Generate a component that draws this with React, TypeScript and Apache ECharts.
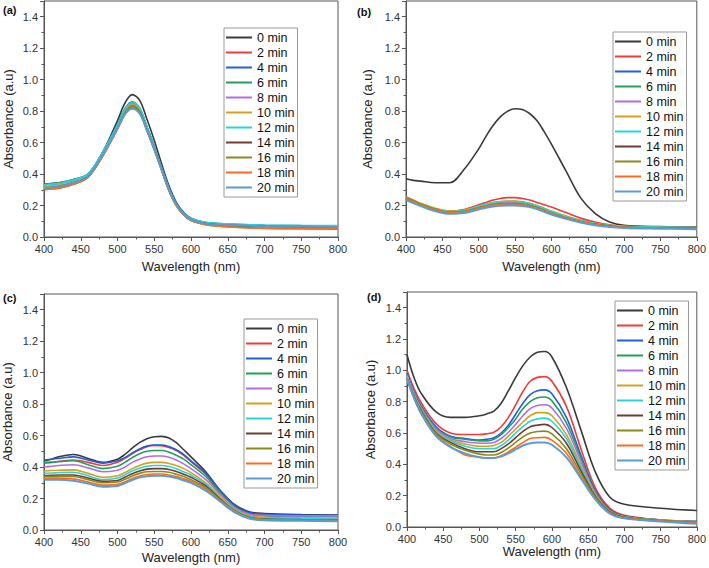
import React, { useEffect, useRef } from "react";
import * as echarts from "echarts";

// Wavelength sampling (nm)
const WL = [400, 410, 420, 440, 460, 480, 500, 510, 520, 530, 540, 550, 560, 570, 580, 590, 600, 620, 640, 660, 680, 700, 750, 800];

const TIMES = ["0 min", "2 min", "4 min", "6 min", "8 min", "10 min", "12 min", "14 min", "16 min", "18 min", "20 min"];
const COLORS = ["#3a3a3a", "#f23a3a", "#1f5fe0", "#22a05a", "#b46be6", "#d4a020", "#27d5d5", "#6e3c36", "#8a8a1a", "#ff6a1a", "#5b9bd5"];

// Panel (a)
const a0 = [0.335, 0.335, 0.34, 0.36, 0.40, 0.54, 0.74, 0.85, 0.905, 0.87, 0.75, 0.615, 0.465, 0.325, 0.22, 0.155, 0.12, 0.09, 0.082, 0.077, 0.073, 0.071, 0.068, 0.066];
const a2 = [0.31, 0.315, 0.32, 0.345, 0.385, 0.52, 0.69, 0.785, 0.83, 0.795, 0.68, 0.56, 0.43, 0.30, 0.205, 0.145, 0.11, 0.085, 0.078, 0.073, 0.07, 0.068, 0.065, 0.063];
const a4 = [0.335, 0.34, 0.345, 0.365, 0.40, 0.54, 0.715, 0.815, 0.86, 0.82, 0.70, 0.575, 0.44, 0.31, 0.21, 0.15, 0.115, 0.09, 0.082, 0.078, 0.075, 0.072, 0.07, 0.068];
const a6 = [0.335, 0.34, 0.345, 0.365, 0.40, 0.54, 0.71, 0.805, 0.85, 0.815, 0.70, 0.575, 0.44, 0.31, 0.21, 0.15, 0.118, 0.092, 0.085, 0.08, 0.077, 0.075, 0.072, 0.07];
const a8 = [0.33, 0.335, 0.34, 0.36, 0.395, 0.535, 0.705, 0.80, 0.845, 0.81, 0.695, 0.57, 0.435, 0.305, 0.205, 0.148, 0.115, 0.09, 0.082, 0.077, 0.074, 0.072, 0.07, 0.068];
const a10 = [0.32, 0.325, 0.33, 0.35, 0.39, 0.53, 0.70, 0.795, 0.84, 0.805, 0.69, 0.565, 0.43, 0.30, 0.20, 0.142, 0.11, 0.083, 0.075, 0.07, 0.066, 0.064, 0.06, 0.058];
const a12 = [0.33, 0.335, 0.34, 0.362, 0.40, 0.54, 0.712, 0.81, 0.855, 0.82, 0.70, 0.575, 0.44, 0.31, 0.21, 0.15, 0.118, 0.093, 0.086, 0.082, 0.078, 0.076, 0.073, 0.072];
const a14 = [0.31, 0.315, 0.32, 0.345, 0.385, 0.52, 0.69, 0.785, 0.83, 0.795, 0.682, 0.56, 0.43, 0.30, 0.205, 0.145, 0.11, 0.085, 0.077, 0.072, 0.07, 0.068, 0.066, 0.064];
const a16 = [0.30, 0.305, 0.31, 0.335, 0.38, 0.515, 0.69, 0.785, 0.83, 0.795, 0.68, 0.555, 0.425, 0.295, 0.20, 0.14, 0.105, 0.078, 0.068, 0.062, 0.058, 0.055, 0.052, 0.05];
const a18 = [0.30, 0.305, 0.31, 0.335, 0.378, 0.515, 0.685, 0.778, 0.82, 0.787, 0.675, 0.553, 0.425, 0.295, 0.20, 0.14, 0.105, 0.078, 0.068, 0.062, 0.058, 0.056, 0.053, 0.051];
const a20 = [0.31, 0.315, 0.32, 0.345, 0.385, 0.525, 0.69, 0.78, 0.815, 0.785, 0.68, 0.56, 0.43, 0.30, 0.205, 0.145, 0.11, 0.085, 0.078, 0.074, 0.071, 0.069, 0.066, 0.064];

// Panel (b)
const b0 = [0.37, 0.36, 0.355, 0.345, 0.345, 0.43, 0.56, 0.64, 0.71, 0.765, 0.80, 0.815, 0.81, 0.785, 0.74, 0.67, 0.59, 0.42, 0.25, 0.15, 0.095, 0.075, 0.066, 0.063];
const b2 = [0.25, 0.23, 0.21, 0.18, 0.165, 0.175, 0.205, 0.22, 0.235, 0.245, 0.25, 0.25, 0.245, 0.235, 0.22, 0.205, 0.19, 0.155, 0.12, 0.095, 0.077, 0.068, 0.063, 0.06];
const b4 = [0.245, 0.225, 0.205, 0.175, 0.158, 0.165, 0.19, 0.202, 0.212, 0.218, 0.22, 0.22, 0.215, 0.205, 0.19, 0.173, 0.155, 0.125, 0.10, 0.082, 0.07, 0.065, 0.06, 0.058];
const b6 = [0.25, 0.23, 0.21, 0.178, 0.16, 0.168, 0.195, 0.208, 0.218, 0.224, 0.226, 0.226, 0.222, 0.212, 0.197, 0.18, 0.162, 0.13, 0.105, 0.085, 0.072, 0.066, 0.061, 0.059];
const b8 = [0.245, 0.225, 0.205, 0.175, 0.157, 0.163, 0.188, 0.20, 0.21, 0.216, 0.218, 0.218, 0.213, 0.204, 0.19, 0.173, 0.155, 0.125, 0.10, 0.082, 0.07, 0.064, 0.06, 0.057];
const b10 = [0.255, 0.235, 0.215, 0.183, 0.165, 0.172, 0.198, 0.21, 0.22, 0.226, 0.228, 0.228, 0.224, 0.215, 0.20, 0.183, 0.165, 0.133, 0.107, 0.087, 0.074, 0.068, 0.063, 0.06];
const b12 = [0.25, 0.23, 0.21, 0.178, 0.16, 0.168, 0.195, 0.208, 0.218, 0.224, 0.226, 0.226, 0.222, 0.213, 0.198, 0.18, 0.162, 0.13, 0.105, 0.085, 0.072, 0.066, 0.062, 0.06];
const b14 = [0.24, 0.22, 0.20, 0.17, 0.153, 0.16, 0.183, 0.194, 0.203, 0.208, 0.21, 0.21, 0.206, 0.198, 0.185, 0.168, 0.15, 0.12, 0.097, 0.08, 0.068, 0.062, 0.058, 0.055];
const b16 = [0.255, 0.232, 0.21, 0.178, 0.158, 0.163, 0.185, 0.196, 0.205, 0.21, 0.212, 0.212, 0.208, 0.20, 0.187, 0.17, 0.152, 0.122, 0.098, 0.08, 0.068, 0.062, 0.058, 0.055];
const b18 = [0.245, 0.225, 0.205, 0.173, 0.155, 0.16, 0.182, 0.193, 0.201, 0.206, 0.208, 0.208, 0.204, 0.196, 0.183, 0.166, 0.149, 0.12, 0.096, 0.079, 0.067, 0.061, 0.057, 0.054];
const b20 = [0.235, 0.215, 0.197, 0.165, 0.148, 0.153, 0.175, 0.186, 0.194, 0.199, 0.20, 0.20, 0.197, 0.19, 0.177, 0.16, 0.143, 0.115, 0.092, 0.075, 0.063, 0.057, 0.053, 0.05];

// Panel (c)
const c0 = [0.44, 0.45, 0.465, 0.48, 0.455, 0.43, 0.45, 0.48, 0.52, 0.555, 0.58, 0.593, 0.595, 0.585, 0.555, 0.51, 0.465, 0.37, 0.25, 0.16, 0.115, 0.105, 0.098, 0.095];
const c2 = [0.425, 0.43, 0.435, 0.445, 0.43, 0.41, 0.43, 0.455, 0.485, 0.51, 0.53, 0.537, 0.535, 0.525, 0.505, 0.475, 0.435, 0.355, 0.245, 0.15, 0.105, 0.095, 0.09, 0.088];
const c4 = [0.445, 0.45, 0.455, 0.465, 0.445, 0.425, 0.44, 0.46, 0.49, 0.515, 0.533, 0.54, 0.54, 0.53, 0.51, 0.48, 0.44, 0.36, 0.25, 0.155, 0.11, 0.10, 0.095, 0.093];
const c6 = [0.43, 0.43, 0.435, 0.44, 0.415, 0.39, 0.405, 0.43, 0.46, 0.485, 0.50, 0.505, 0.505, 0.495, 0.475, 0.45, 0.415, 0.34, 0.235, 0.145, 0.10, 0.09, 0.085, 0.085];
const c8 = [0.40, 0.405, 0.41, 0.415, 0.395, 0.37, 0.38, 0.40, 0.43, 0.45, 0.465, 0.47, 0.47, 0.462, 0.445, 0.42, 0.39, 0.32, 0.225, 0.14, 0.10, 0.093, 0.09, 0.09];
const c10 = [0.375, 0.378, 0.38, 0.382, 0.36, 0.335, 0.345, 0.365, 0.39, 0.41, 0.425, 0.43, 0.43, 0.423, 0.41, 0.39, 0.365, 0.30, 0.21, 0.13, 0.09, 0.08, 0.075, 0.073];
const c12 = [0.36, 0.362, 0.365, 0.367, 0.345, 0.32, 0.33, 0.35, 0.375, 0.393, 0.405, 0.41, 0.41, 0.404, 0.39, 0.37, 0.35, 0.29, 0.20, 0.125, 0.085, 0.075, 0.072, 0.07];
const c14 = [0.345, 0.347, 0.35, 0.35, 0.33, 0.31, 0.315, 0.335, 0.358, 0.375, 0.387, 0.39, 0.39, 0.385, 0.372, 0.355, 0.335, 0.28, 0.195, 0.12, 0.08, 0.07, 0.066, 0.065];
const c16 = [0.34, 0.34, 0.342, 0.34, 0.32, 0.30, 0.305, 0.322, 0.343, 0.36, 0.37, 0.372, 0.372, 0.367, 0.355, 0.34, 0.32, 0.27, 0.19, 0.12, 0.08, 0.068, 0.064, 0.063];
const c18 = [0.33, 0.33, 0.33, 0.325, 0.305, 0.285, 0.29, 0.306, 0.328, 0.343, 0.353, 0.356, 0.356, 0.35, 0.34, 0.325, 0.31, 0.26, 0.185, 0.115, 0.075, 0.065, 0.062, 0.06];
const c20 = [0.32, 0.32, 0.32, 0.313, 0.295, 0.275, 0.28, 0.297, 0.318, 0.333, 0.342, 0.345, 0.345, 0.34, 0.33, 0.315, 0.30, 0.25, 0.18, 0.11, 0.072, 0.062, 0.058, 0.056];

// Panel (d)
const d0 = [1.10, 0.95, 0.85, 0.735, 0.70, 0.70, 0.71, 0.722, 0.74, 0.79, 0.87, 0.955, 1.03, 1.085, 1.115, 1.12, 1.085, 0.89, 0.62, 0.35, 0.19, 0.145, 0.12, 0.105];
const d2 = [1.00, 0.88, 0.79, 0.66, 0.60, 0.59, 0.59, 0.595, 0.605, 0.64, 0.70, 0.78, 0.865, 0.93, 0.955, 0.96, 0.93, 0.77, 0.50, 0.25, 0.12, 0.075, 0.045, 0.035];
const d4 = [0.98, 0.86, 0.77, 0.64, 0.58, 0.565, 0.555, 0.56, 0.57, 0.60, 0.65, 0.72, 0.79, 0.845, 0.87, 0.875, 0.85, 0.70, 0.46, 0.23, 0.11, 0.07, 0.045, 0.035];
const d6 = [0.97, 0.85, 0.76, 0.63, 0.575, 0.56, 0.55, 0.55, 0.56, 0.59, 0.635, 0.69, 0.755, 0.80, 0.825, 0.83, 0.805, 0.665, 0.44, 0.22, 0.105, 0.068, 0.045, 0.035];
const d8 = [0.97, 0.85, 0.755, 0.625, 0.565, 0.545, 0.535, 0.535, 0.54, 0.565, 0.605, 0.655, 0.71, 0.755, 0.775, 0.78, 0.76, 0.63, 0.42, 0.215, 0.10, 0.065, 0.043, 0.033];
const d10 = [0.96, 0.84, 0.75, 0.615, 0.555, 0.53, 0.515, 0.515, 0.52, 0.54, 0.58, 0.625, 0.67, 0.71, 0.73, 0.73, 0.71, 0.59, 0.395, 0.21, 0.10, 0.065, 0.043, 0.033];
const d12 = [0.96, 0.84, 0.745, 0.61, 0.55, 0.515, 0.50, 0.50, 0.50, 0.52, 0.555, 0.60, 0.64, 0.675, 0.69, 0.695, 0.675, 0.565, 0.38, 0.20, 0.095, 0.063, 0.04, 0.03];
const d14 = [0.95, 0.83, 0.74, 0.60, 0.54, 0.50, 0.48, 0.48, 0.48, 0.50, 0.53, 0.57, 0.61, 0.64, 0.65, 0.655, 0.635, 0.535, 0.36, 0.195, 0.095, 0.062, 0.04, 0.03];
const d16 = [0.95, 0.83, 0.735, 0.595, 0.53, 0.49, 0.465, 0.46, 0.46, 0.475, 0.505, 0.54, 0.575, 0.60, 0.61, 0.612, 0.595, 0.50, 0.34, 0.19, 0.09, 0.06, 0.04, 0.03];
const d18 = [0.94, 0.82, 0.725, 0.585, 0.515, 0.46, 0.445, 0.44, 0.44, 0.455, 0.48, 0.51, 0.54, 0.565, 0.57, 0.572, 0.555, 0.47, 0.32, 0.18, 0.09, 0.058, 0.038, 0.028];
const d20 = [0.95, 0.82, 0.72, 0.58, 0.51, 0.47, 0.445, 0.44, 0.44, 0.45, 0.47, 0.495, 0.52, 0.535, 0.54, 0.54, 0.525, 0.445, 0.31, 0.175, 0.085, 0.055, 0.035, 0.02];

const PANEL_DATA = [
  [a0, a2, a4, a6, a8, a10, a12, a14, a16, a18, a20],
  [b0, b2, b4, b6, b8, b10, b12, b14, b16, b18, b20],
  [c0, c2, c4, c6, c8, c10, c12, c14, c16, c18, c20],
  [d0, d2, d4, d6, d8, d10, d12, d14, d16, d18, d20],
];
const PANEL_LABELS = ["(a)", "(b)", "(c)", "(d)"];

// Layout (pixels)
const GRIDS = [
  { left: 44, top: 1, width: 294, height: 236 },
  { left: 406, top: 1, width: 293, height: 236 },
  { left: 44, top: 294, width: 294, height: 236 },
  { left: 407, top: 292, width: 294, height: 235 },
];
const LEGEND_POS = [
  { left: 224, top: 28 },
  { left: 613, top: 32 },
  { left: 244, top: 319 },
  { left: 615, top: 301 },
];
const Y_NAME_GAP = [29, 32, 30, 30];
const X_NAME_GAP = [23, 23, 21, 15];
const LABEL_POS = [
  { x: 3, y: 4 },
  { x: 357, y: 6 },
  { x: 3, y: 292 },
  { x: 367, y: 291 },
];

const FONT = "Liberation Sans, Arial, sans-serif";
const AXIS_COLOR = "#555";

export default function App() {
  const ref = useRef<HTMLDivElement>(null);

  useEffect(() => {
    if (!ref.current) return;
    const chart = echarts.init(ref.current, null, { renderer: "svg" });

    const grid = GRIDS.map((g) => ({
      ...g,
      show: true,
      borderColor: AXIS_COLOR,
      borderWidth: 1,
      backgroundColor: "transparent",
    }));

    const xAxis = GRIDS.map((_, i) => ({
      type: "value",
      gridIndex: i,
      min: 400,
      max: 800,
      interval: 50,
      name: "Wavelength (nm)",
      nameLocation: "middle",
      nameGap: X_NAME_GAP[i],
      nameTextStyle: { fontFamily: FONT, fontSize: 13, color: "#222" },
      axisLine: { show: true, lineStyle: { color: AXIS_COLOR, width: 1 } },
      axisTick: { show: true, length: 4, lineStyle: { color: AXIS_COLOR } },
      minorTick: { show: true, splitNumber: 2, length: 2.5, lineStyle: { color: AXIS_COLOR } },
      axisLabel: { fontFamily: FONT, fontSize: 11, color: "#333", margin: 6 },
      splitLine: { show: false },
    }));

    const yAxis = GRIDS.map((_, i) => ({
      type: "value",
      gridIndex: i,
      min: 0,
      max: 1.5,
      interval: 0.2,
      name: "Absorbance (a.u)",
      nameLocation: "middle",
      nameRotate: 90,
      nameGap: Y_NAME_GAP[i],
      nameTextStyle: { fontFamily: FONT, fontSize: 13, color: "#222" },
      axisLine: { show: true, lineStyle: { color: AXIS_COLOR, width: 1 } },
      axisTick: { show: true, length: 4, lineStyle: { color: AXIS_COLOR } },
      minorTick: { show: true, splitNumber: 2, length: 2.5, lineStyle: { color: AXIS_COLOR } },
      axisLabel: {
        fontFamily: FONT,
        fontSize: 11,
        color: "#333",
        margin: 6,
        formatter: (v: number) => (v > 1.45 ? "" : v.toFixed(1)),
      },
      splitLine: { show: false },
    }));

    const series: any[] = [];
    PANEL_DATA.forEach((panel, p) => {
      panel.forEach((vals, k) => {
        series.push({
          type: "line",
          name: TIMES[k],
          xAxisIndex: p,
          yAxisIndex: p,
          data: WL.map((w, j) => [w, vals[j]]),
          showSymbol: false,
          smooth: 0.35,
          lineStyle: { color: COLORS[k], width: k === 10 ? 2 : 1.6 },
          itemStyle: { color: COLORS[k] },
          z: 2 + k,
        });
      });
    });

    const legend = LEGEND_POS.map((pos, p) => ({
      ...pos,
      orient: "vertical",
      data: TIMES,
      selectedMode: false,
      icon: "rect",
      itemWidth: 26,
      itemHeight: 2,
      itemGap: 0,
      padding: [2, 3, 2, 2],
      borderColor: "#999",
      borderWidth: 1,
      textStyle: { fontFamily: FONT, fontSize: 12.5, lineHeight: 15, color: "#111" },
    }));

    const graphic = LABEL_POS.map((pos, i) => ({
      type: "text",
      left: pos.x,
      top: pos.y,
      style: { text: PANEL_LABELS[i], fontFamily: FONT, fontSize: 11, fontWeight: "bold", fill: "#111" },
    }));

    chart.setOption({
      animation: false,
      backgroundColor: "#fff",
      grid,
      xAxis,
      yAxis,
      series,
      legend,
      graphic,
    } as any);

    return () => chart.dispose();
  }, []);

  return <div ref={ref} style={{ position: "fixed", left: 0, top: 0, width: 709, height: 568 }} />;
}
